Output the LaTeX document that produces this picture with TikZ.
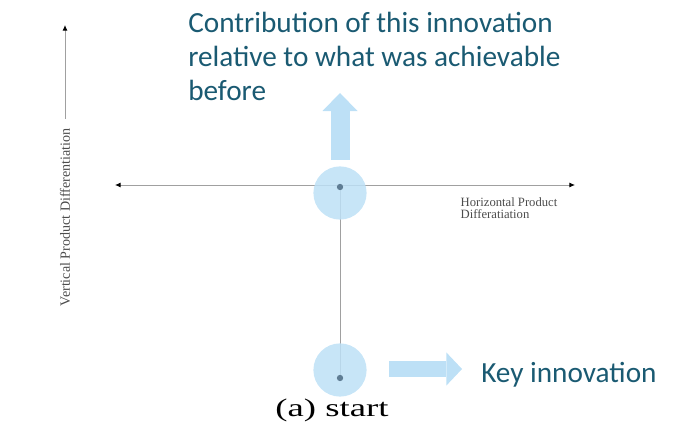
\documentclass[tikz,border=0pt]{standalone}
\usepackage{fontspec}
\setmainfont{Liberation Serif}
\newfontfamily\calibfont{Carlito}
\usetikzlibrary{arrows.meta,positioning}
\definecolor{softblue}{RGB}{189,224,246}
\definecolor{tealtext}{RGB}{26,90,114}
\definecolor{axisgray}{RGB}{160,160,160}
\definecolor{dotgray}{RGB}{95,125,148}

\begin{document}
\begin{tikzpicture}[x=0.025cm,y=-0.025cm,
  axis/.style={draw=axisgray, line width=0.6pt},
  axislabel/.style={text=black!70, inner sep=1pt},
  blob/.style={circle, fill=softblue, fill opacity=0.85, minimum size=1.33cm, inner sep=0pt},
  dot/.style={circle, fill=dotgray, minimum size=4.5pt, inner sep=0pt},
  callout/.style={font=\calibfont\fontsize{20.8}{24.1}\selectfont, text=tealtext, inner sep=0pt},
  blockarrow/.style={draw=softblue, line width=#1}]
  \useasboundingbox (0,0) rectangle (675,425);

  % axes
  \coordinate (hleft) at (115,185);
  \coordinate (hright) at (575,185);
  \coordinate (vtop) at (65,25);
  \draw[axis, {Latex[length=4pt,width=3.5pt,color=black]}-{Latex[length=4pt,width=3.5pt,color=black]}] (hleft) -- (hright);
  \node[axislabel, font=\fontsize{10}{12}\selectfont, rotate=90, anchor=east] (vlabel) at (65,127) {Vertical Product Differentiation};
  \draw[axis, -{Latex[length=4pt,width=3.5pt,color=black]}] (vlabel.east) ++(0,-8) -- (vtop);
  \node[axislabel, font=\fontsize{9}{8.5}\selectfont, align=left, anchor=north west] (hlabel) at (459,196) {Horizontal Product\\Differatiation};

  % start point and line
  \coordinate (origin) at (340,187);
  \coordinate (base) at (340,378);
  \draw[axis] (origin) -- (base);
  \node[blob] (topblob) at (340,193) {};
  \node[blob] (lowblob) at (340,370) {};
  \node[dot] (origindot) at (origin) {};
  \node[dot] (basedot) at (base) {};

  % block arrows
  \coordinate (uptail) at (340,160);
  \coordinate (uptip) at (340,93);
  \coordinate (righttail) at (389,369);
  \coordinate (righttip) at (462,369);
  \draw[blockarrow=0.475cm, -{Triangle[length=0.45cm,width=0.875cm,line width=0pt,color=softblue]}] (uptail) -- (uptip);
  \draw[blockarrow=0.375cm, -{Triangle[length=0.39cm,width=0.825cm,line width=0pt,color=softblue]}] (righttail) -- (righttip);

  % texts
  \node[callout, align=left, anchor=north west] (contrib) at (188,12) {Contribution of this innovation\\relative to what was achievable\\before};
  \node[callout, anchor=base west] (keyinno) at (481,382) {Key innovation};
  \node[font=\fontsize{18}{20}\selectfont, anchor=base, inner sep=0pt] (caption) at (332,416) {\scalebox{1.45}[1]{(a) start}};
\end{tikzpicture}
\end{document}
